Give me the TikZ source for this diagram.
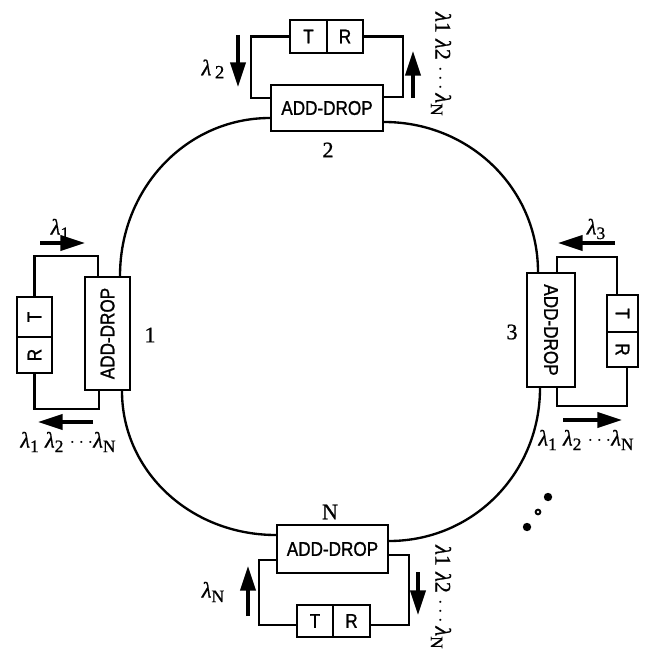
\documentclass[tikz,border=0pt]{standalone}
\usepackage{fontspec}
\usepackage{graphicx}
\newfontfamily\adfont[FakeStretch=0.86,FakeBold=1.2]{Liberation Sans}
\newfontfamily\lfont[FakeBold=0.8]{Liberation Serif}
\newcommand\lmb[1]{{\itshape λ}\raisebox{-0.45ex}{\fontsize{15}{15}\selectfont #1}}
\newcommand\lmbr[1]{{\itshape λ}#1}
\usetikzlibrary{arrows.meta,calc}
\begin{document}
\begin{tikzpicture}[x=0.03cm,y=-0.03cm,
  box/.style={draw, line width=1.8pt, inner sep=0pt, font=\adfont\fontsize{17}{19}\selectfont},
  wire/.style={line width=2pt},
  ring/.style={line width=2pt},
  sig/.style={line width=2.6pt, -{Triangle[length=21pt,width=13pt]}},
  lab/.style={inner sep=0pt, font=\lfont\fontsize{19}{21}\selectfont},
  num/.style={inner sep=0pt, font=\lfont\fontsize{19}{21}\selectfont}]
\useasboundingbox (0,0) rectangle (649,654);

% ---- module 2 (top)
\node[box, minimum width=112*0.03cm, minimum height=46*0.03cm] (ad2) at (327,108) {ADD-DROP};
\node[box, minimum width=37*0.03cm, minimum height=33*0.03cm] (t2) at (308.5,36.5) {T};
\node[box, minimum width=36*0.03cm, minimum height=33*0.03cm] (r2) at (345,36.5) {R};
\draw[wire] (t2.west) -| ($(ad2.west)+(-19,-10)$) -- ($(ad2.west)+(0,-10)$);
\draw[wire] (r2.east) -| ($(ad2.east)+(19,-11)$) -- ($(ad2.east)+(0,-11)$);

% ---- module 1 (left)
\node[box, minimum width=45*0.03cm, minimum height=113*0.03cm] (ad1) at (107.5,333.5) {\rotatebox{90}{ADD-DROP}};
\node[box, minimum width=35*0.03cm, minimum height=40*0.03cm] (t1) at (34.5,317) {\rotatebox{90}{T}};
\node[box, minimum width=35*0.03cm, minimum height=36*0.03cm] (r1) at (34.5,355) {\rotatebox{90}{R}};
\draw[wire] (t1.north) |- ($(ad1.north)+(-9.5,-20)$) -- ($(ad1.north)+(-9.5,0)$);
\draw[wire] (r1.south) |- ($(ad1.south)+(-8.5,18)$) -- ($(ad1.south)+(-8.5,0)$);

% ---- module 3 (right)
\node[box, minimum width=48*0.03cm, minimum height=114*0.03cm] (ad3) at (551,330) {\rotatebox{-90}{ADD-DROP}};
\node[box, minimum width=31*0.03cm, minimum height=37*0.03cm] (t3) at (622.5,313.5) {\rotatebox{-90}{T}};
\node[box, minimum width=31*0.03cm, minimum height=35*0.03cm] (r3) at (622.5,349.5) {\rotatebox{-90}{R}};
\draw[wire] ($(ad3.north)+(6,0)$) |- ($(t3.north)+(-5.5,-37)$) -- ($(t3.north)+(-5.5,0)$);
\draw[wire] ($(ad3.south)+(6,0)$) |- ($(r3.south)+(4.5,38)$) -- ($(r3.south)+(4.5,0)$);

% ---- module N (bottom)
\node[box, minimum width=111*0.03cm, minimum height=48*0.03cm] (adN) at (332.5,549) {ADD-DROP};
\node[box, minimum width=36*0.03cm, minimum height=32*0.03cm] (tN) at (315,621) {T};
\node[box, minimum width=37*0.03cm, minimum height=32*0.03cm] (rN) at (351.5,621) {R};
\draw[wire] ($(adN.west)+(0,11)$) -| ($(tN.west)+(-37,4)$) -- ($(tN.west)+(0,4)$);
\draw[wire] ($(adN.east)+(0,6)$) -| ($(rN.east)+(38,4)$) -- ($(rN.east)+(0,4)$);

% ---- ring
\coordinate (p2w) at ($(ad2.west)+(0,10)$);
\coordinate (p2e) at ($(ad2.east)+(0,14)$);
\coordinate (p1n) at ($(ad1.north)+(12.5,0)$);
\coordinate (p1s) at ($(ad1.south)+(14.5,0)$);
\coordinate (p3n) at ($(ad3.north)+(-13,0)$);
\coordinate (p3s) at ($(ad3.south)+(-11,0)$);
\coordinate (pNw) at ($(adN.west)+(0,-14)$);
\coordinate (pNe) at ($(adN.east)+(0,-8)$);
\draw[ring] (p2w) .. controls +(-83.4,0) and +(0,-87.8) .. (p1n);
\draw[ring] (p2e) .. controls +(85.6,0) and +(0,-83.4) .. (p3n);
\draw[ring] (p1s) .. controls +(0,80.1) and +(-85.6,0) .. (pNw);
\draw[ring] (p3s) .. controls +(0,85.1) and +(84,0) .. (pNe);

% ---- wavelength arrows
\coordinate (a2a) at (238,35);  \coordinate (a2b) at (238,87);
\coordinate (a2c) at (413,98);  \coordinate (a2d) at (413,51);
\coordinate (a1a) at (40,243);  \coordinate (a1b) at (85,243);
\coordinate (a1c) at (93,422);  \coordinate (a1d) at (38,422);
\coordinate (a3a) at (615,243); \coordinate (a3b) at (558,243);
\coordinate (a3c) at (563,420); \coordinate (a3d) at (622,420);
\coordinate (aNa) at (248,616); \coordinate (aNb) at (248,566);
\coordinate (aNc) at (418,572); \coordinate (aNd) at (418,615);
\draw[sig] (a2a) -- (a2b);
\draw[sig] (a2c) -- (a2d);
\draw[sig] (a1a) -- (a1b);
\draw[sig] (a1c) -- (a1d);
\draw[sig] (a3a) -- (a3b);
\draw[sig] (a3c) -- (a3d);
\draw[sig] (aNa) -- (aNb);
\draw[sig] (aNc) -- (aNd);

% ---- labels
\node[lab] (l2) at (213,69) {{\itshape λ}\,\raisebox{-0.3ex}{\fontsize{16}{16}\selectfont 2}};
\node[lab, rotate=-90] (l2r) at (441,64) {\lmbr{1}\;\lmbr{2}\;$\cdots$\,\lmb{N}};
\node[lab] (l1) at (60,229) {\lmb{1}};
\node[lab] (l1r) at (68,442) {\lmb{1}\;\lmb{2}\;$\cdots$\lmb{N}};
\node[lab] (l3) at (596,229) {\lmb{3}};
\node[lab] (l3r) at (586,440) {\lmb{1}\;\lmb{2}\;$\cdots$\lmb{N}};
\node[lab] (lN) at (213,592) {\lmb{N}};
\node[lab, rotate=-90] (lNr) at (441,597) {\lmbr{1}\;\lmbr{2}\;$\cdots$\,\lmb{N}};

\node[num] (n2) at (328,150) {2};
\node[num] (n1) at (150,335) {1};
\node[num] (n3) at (512,332) {3};
\node[num] (nN) at (330,512) {N};

% ---- continuation dots
\fill (548,497) circle (4.2);
\fill (538,512) circle (3.4);
\fill[white] (538,512) circle (1.3);
\fill (527,527) circle (4.2);
\end{tikzpicture}
\end{document}
